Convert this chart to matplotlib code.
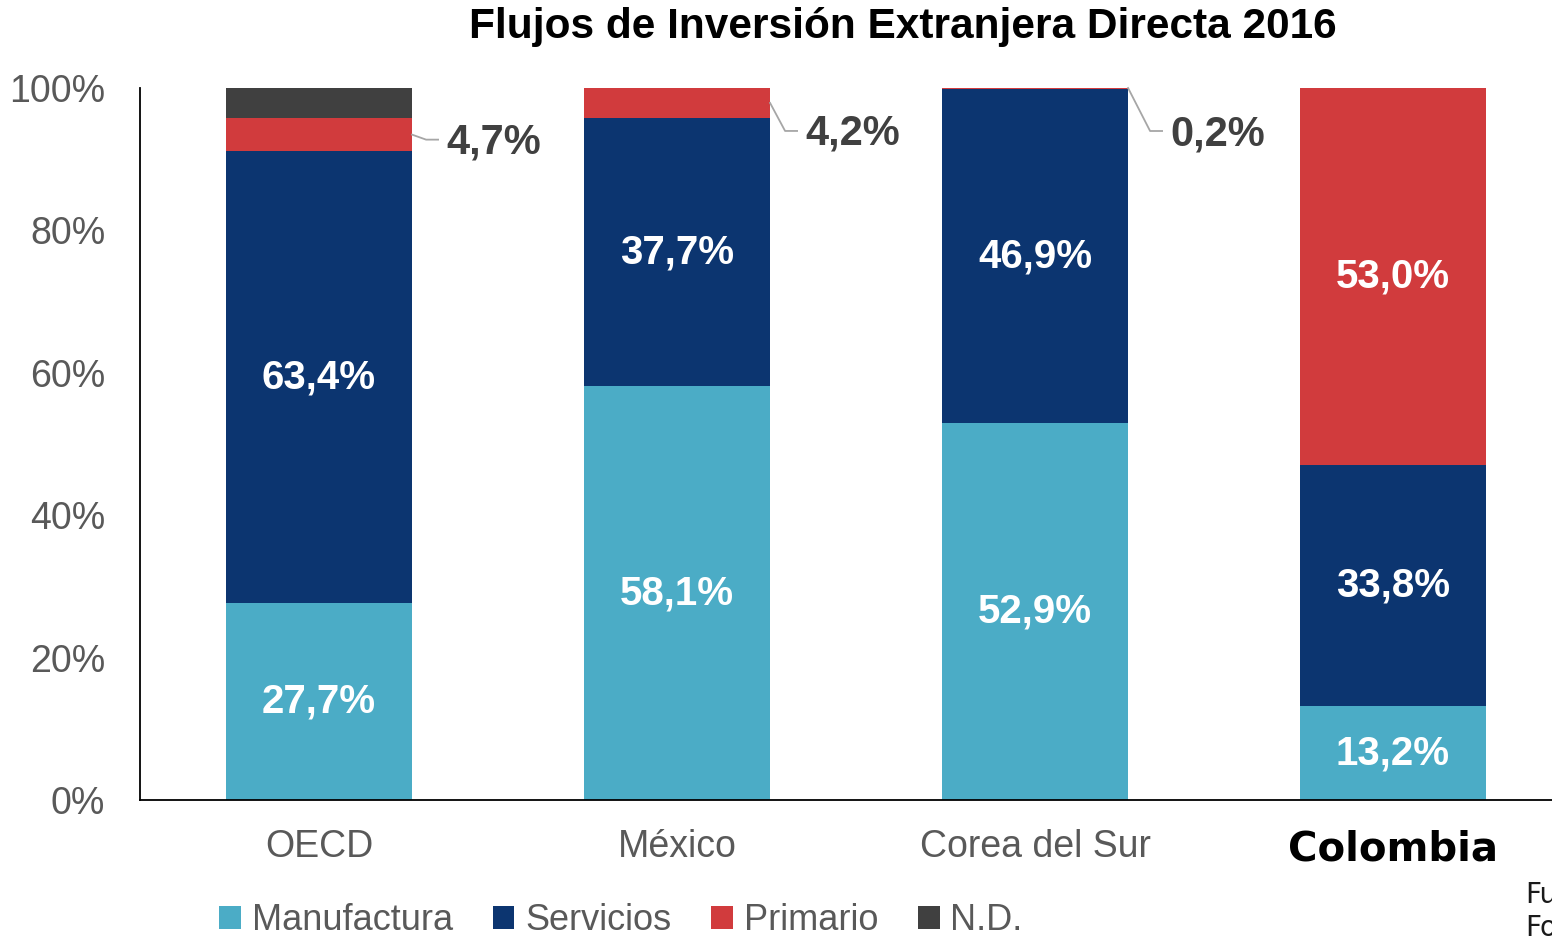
import numpy as np
import matplotlib
matplotlib.use("Agg")
import matplotlib.pyplot as plt
from matplotlib.patches import Patch
from matplotlib.transforms import offset_copy

# ---- Data ----
countries = ["OECD", "México", "Corea del Sur", "Colombia"]
series = ["Manufactura", "Servicios", "Primario", "N.D."]
manufactura = [27.7, 58.1, 52.9, 13.2]
servicios = [63.4, 37.7, 46.9, 33.8]
primario = [4.7, 4.2, 0.2, 53.0]
nd = [4.2, 0.0, 0.0, 0.0]

colors = ["#4BACC6", "#0C3570", "#D13B3D", "#404040"]
grey = "#595959"

plt.rcParams["font.family"] = ["Liberation Sans", "DejaVu Sans"]

fig = plt.figure(figsize=(15.52, 9.36), dpi=100)
ax = fig.add_axes([140 / 1552, 1 - 800 / 936, 1432 / 1552, 712 / 936])
ax.set_xlim(-0.5, 3.5)
ax.set_ylim(0, 100)
ax.autoscale(False)

x = np.arange(len(countries))
width = 0.52
stack = [manufactura, servicios, primario, nd]
bottom = np.zeros(len(countries))
for vals, col, name in zip(stack, colors, series):
    vals = np.array(vals)
    ax.bar(x, vals, width, bottom=bottom, color=col, label=name)
    bottom += vals

# ---- value labels inside bars ----
def fmt(v):
    return f"{v:.1f}%".replace(".", ",")

lbl = dict(ha="center", va="center", color="white", fontsize=29, fontweight="bold")
for i in range(len(countries)):
    ax.text(x[i], manufactura[i] / 2, fmt(manufactura[i]), **lbl)
    ax.text(x[i], manufactura[i] + servicios[i] / 2, fmt(servicios[i]), **lbl)

# Colombia primario inside the bar
base = manufactura[3] + servicios[3]
ax.text(x[3], base + primario[3] / 2, fmt(primario[3]), **lbl)

# small primario values outside with leader lines (pixel offsets)
leader = [(0, 14, 5, 12), (1, 15, 28, 12), (2, 22, 43, 12)]
for i, dx1, dy, dx2 in leader:
    base = manufactura[i] + servicios[i]
    if primario[i] > 1:
        y0 = base + primario[i] / 2
    else:
        y0 = base + primario[i]
    x0 = x[i] + width / 2
    t1 = offset_copy(ax.transData, fig=fig, x=dx1, y=-dy, units="dots")
    t2 = offset_copy(ax.transData, fig=fig, x=dx1 + dx2, y=-dy, units="dots")
    t3 = offset_copy(ax.transData, fig=fig, x=dx1 + dx2 + 8, y=-dy - 3, units="dots")
    p0 = ax.transData.transform((x0, y0))
    p1 = t1.transform((x0, y0))
    p2 = t2.transform((x0, y0))
    inv = ax.transData.inverted()
    pts = inv.transform(np.array([p0, p1, p2]))
    ax.plot(pts[:, 0], pts[:, 1], color="#A6A6A6", lw=1.3, clip_on=False)
    ax.text(x0, y0, fmt(primario[i]), transform=t3, ha="left", va="center",
            color="#404040", fontsize=30, fontweight="bold")

# ---- axes styling ----
ax.set_yticks(np.arange(0, 101, 20))
ax.set_yticklabels([f"{v}%" for v in range(0, 101, 20)])
ax.tick_params(axis="y", length=0, pad=25, labelsize=27, labelcolor=grey)
ax.tick_params(axis="x", length=0, pad=21, labelsize=27, labelcolor=grey)
ax.set_xticks(x)
ax.set_xticklabels(countries)
lab = ax.get_xticklabels()[3]
lab.set_fontfamily("DejaVu Sans")
lab.set_fontweight("bold")
lab.set_color("black")
lab.set_fontsize(29)
for s in ["top", "right"]:
    ax.spines[s].set_visible(False)
for s in ["left", "bottom"]:
    ax.spines[s].set_color("black")
    ax.spines[s].set_linewidth(1.3)

fig.text(0.582, 1 - 27 / 936, "Flujos de Inversión Extranjera Directa 2016",
         ha="center", va="center", fontsize=30.5, fontweight="bold")

handles = [Patch(facecolor=c, edgecolor="none") for c in colors]
fig.legend(handles, series, loc="center", bbox_to_anchor=(621 / 1552, 1 - 921 / 936),
           ncol=4, frameon=False, fontsize=26, labelcolor=grey,
           handlelength=0.6, handleheight=0.6, handletextpad=0.3,
           columnspacing=1.1, borderpad=0, borderaxespad=0)

fig.text(1525 / 1552, 1 - 895 / 936, "Fuente:", ha="left", va="center",
         fontsize=20, family="DejaVu Sans", color="#1a1a1a")
fig.text(1525 / 1552, 1 - 928 / 936, "Fo", ha="left", va="center",
         fontsize=20, family="DejaVu Sans", color="#1a1a1a")

fig.savefig("out.png", dpi=100)
